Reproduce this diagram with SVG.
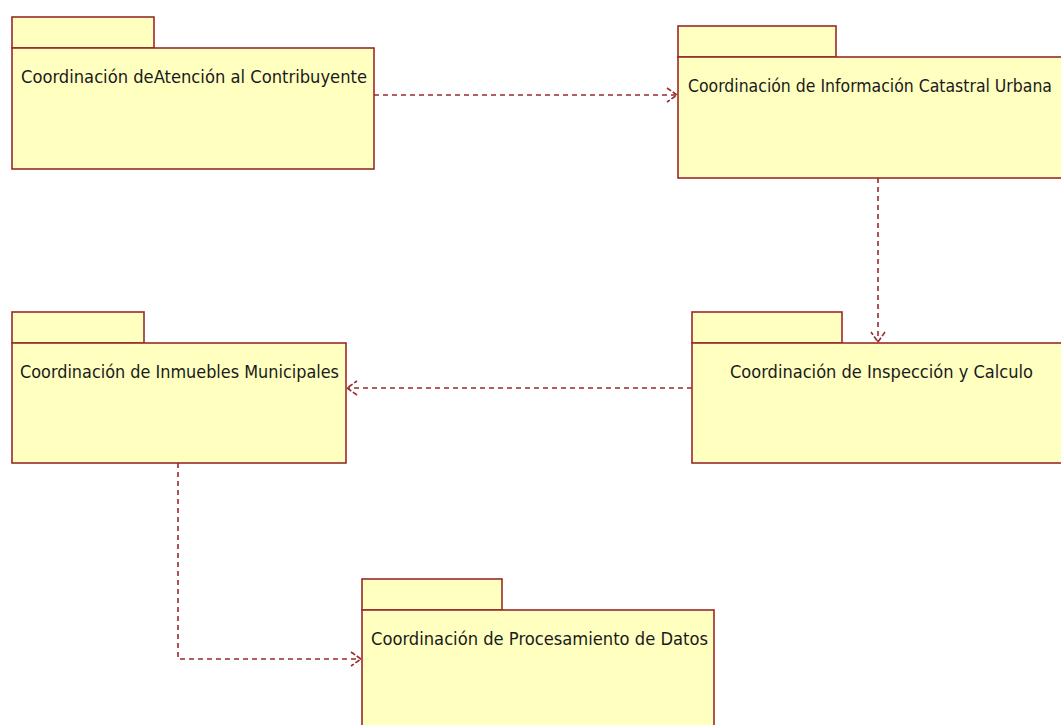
<svg xmlns="http://www.w3.org/2000/svg" width="1061" height="725" viewBox="0 0 1061 725">
  <style>
    .pkg { fill: #FFFFC0; stroke: #9A2A2A; stroke-width: 1.6; }
    .lbl { font-family: "DejaVu Sans Condensed", "DejaVu Sans", "Liberation Sans", sans-serif; font-stretch: condensed; font-size: 18.5px; fill: #1a1a1a; }
    .dep { fill: none; stroke: #9A2A2A; stroke-width: 1.6; stroke-dasharray: 5 4; }
  </style>
  <defs>
    <marker id="open" viewBox="0 0 12 16" refX="11" refY="8" markerWidth="12" markerHeight="16" markerUnits="userSpaceOnUse" orient="auto">
      <path d="M1 1 L11 8 L1 15" fill="none" stroke="#9A2A2A" stroke-width="1.6" stroke-dasharray="5 2"/>
    </marker>
  </defs>
  <rect width="1061" height="725" fill="#FFFFFF"/>

  <g id="connectors">
    <path class="dep" d="M374 95 H677" marker-end="url(#open)"/>
    <path class="dep" d="M878 178 V342" marker-end="url(#open)"/>
    <path class="dep" d="M692 388 H347" marker-end="url(#open)"/>
    <path class="dep" d="M178 463 V659 H361" marker-end="url(#open)"/>
  </g>

  <g id="atencion">
    <rect class="pkg" x="12" y="17" width="142" height="31"/>
    <rect class="pkg" x="12" y="48" width="362" height="121"/>
    <text class="lbl" x="21" y="83" textLength="346" lengthAdjust="spacingAndGlyphs">Coordinación deAtención al Contribuyente</text>
  </g>

  <g id="catastral">
    <rect class="pkg" x="678" y="26" width="158" height="31"/>
    <rect class="pkg" x="678" y="57" width="400" height="121"/>
    <text class="lbl" x="688" y="92" textLength="364" lengthAdjust="spacingAndGlyphs">Coordinación de Información Catastral Urbana</text>
  </g>

  <g id="inspeccion">
    <rect class="pkg" x="692" y="312" width="150" height="31"/>
    <rect class="pkg" x="692" y="343" width="390" height="120"/>
    <text class="lbl" x="730" y="378" textLength="303" lengthAdjust="spacingAndGlyphs">Coordinación de Inspección y Calculo</text>
  </g>

  <g id="inmuebles">
    <rect class="pkg" x="12" y="312" width="132" height="31"/>
    <rect class="pkg" x="12" y="343" width="334" height="120"/>
    <text class="lbl" x="20" y="378" textLength="319" lengthAdjust="spacingAndGlyphs">Coordinación de Inmuebles Municipales</text>
  </g>

  <g id="procesamiento">
    <rect class="pkg" x="362" y="579" width="140" height="31"/>
    <rect class="pkg" x="362" y="610" width="352" height="130"/>
    <text class="lbl" x="371" y="645" textLength="337" lengthAdjust="spacingAndGlyphs">Coordinación de Procesamiento de Datos</text>
  </g>
</svg>
